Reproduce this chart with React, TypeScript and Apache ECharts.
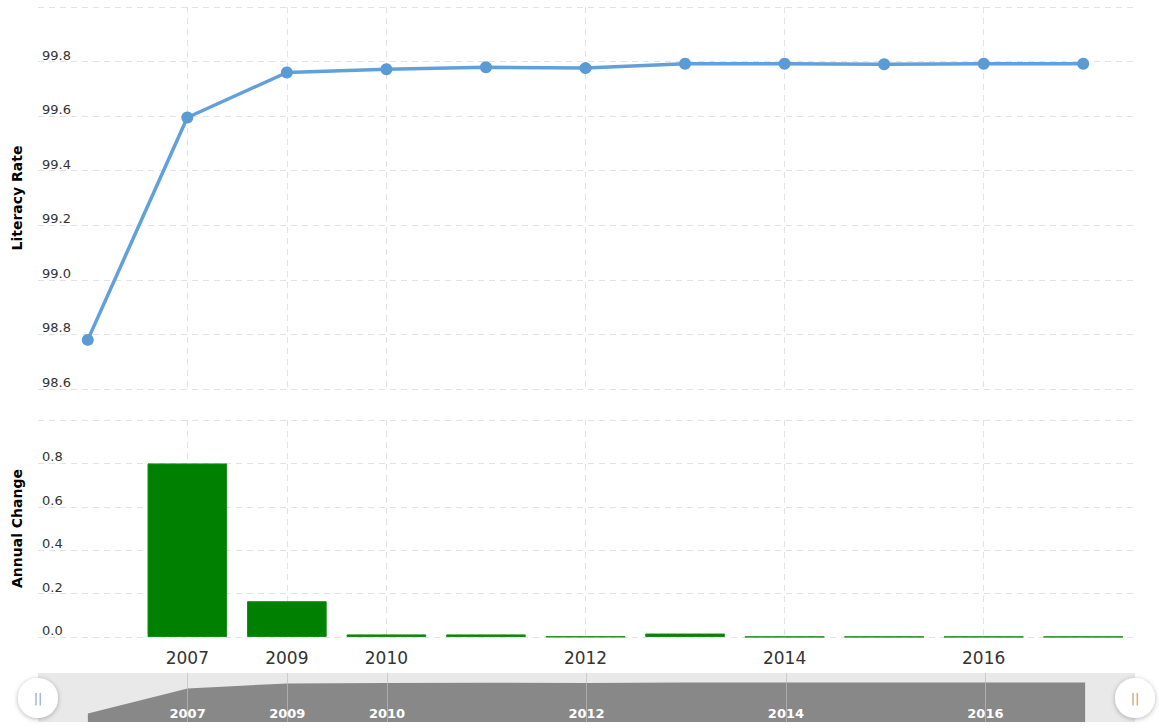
import React, { useEffect, useRef } from "react";
import * as echarts from "echarts";

const years = ["2006", "2007", "2009", "2010", "2011", "2012", "2013", "2014", "2015", "2016", "2017"];
const literacyRate = [98.78, 99.595, 99.76, 99.772, 99.779, 99.776, 99.792, 99.792, 99.79, 99.792, 99.792];
const annualChange = [null, 0.8, 0.165, 0.012, 0.012, 0.002, 0.016, 0.001, 0.001, 0.001, 0.001];
const labeledYears = ["2007", "2009", "2010", "2012", "2014", "2016"];

const showLabeled = (_i: number, v: string) => labeledYears.includes(v);
const gridLine = { color: "#e2e2e2", type: [6, 5] as any, width: 1 };
const FONT = "DejaVu Sans";

export default function App() {
  const ref = useRef<HTMLDivElement>(null);
  useEffect(() => {
    document.body.style.margin = "0";
    if (!ref.current) return;
    const chart = echarts.init(ref.current, undefined, { renderer: "svg" });
    const handle = (cx: number) => ({
      type: "group",
      x: cx,
      y: 698,
      z: 100,
      children: [
        {
          type: "circle",
          shape: { cx: 0, cy: 0, r: 20 },
          style: { fill: "#fff", shadowBlur: 5, shadowColor: "rgba(0,0,0,0.3)", shadowOffsetY: 1 },
        },
        {
          type: "text",
          x: 0,
          y: 0,
          style: { text: "||", fill: "#a0a0a0", fontSize: 13, fontFamily: FONT, align: "center", verticalAlign: "middle" },
        },
      ],
    });
    chart.setOption({
      animation: false,
      backgroundColor: "#fff",
      grid: [
        { left: 38, right: 26, top: 7, height: 382 },
        { left: 38, right: 26, top: 420, height: 217 },
        { left: 38, right: 24, top: 673, height: 49, show: true, backgroundColor: "#e9e9e9", borderWidth: 0 },
      ],
      xAxis: [
        {
          type: "category", gridIndex: 0, data: years, boundaryGap: true,
          axisLine: { show: false }, axisTick: { show: false }, axisLabel: { show: false },
          splitLine: { show: true, interval: showLabeled, alignWithLabel: true, lineStyle: gridLine } as any,
        },
        {
          type: "category", gridIndex: 1, data: years, boundaryGap: true,
          axisLine: { show: false }, axisTick: { show: false },
          axisLabel: { interval: showLabeled, color: "#333", fontSize: 17, fontFamily: FONT, margin: 12 },
          splitLine: { show: true, interval: showLabeled, alignWithLabel: true, lineStyle: gridLine } as any,
        },
        {
          type: "category", gridIndex: 2, data: years, boundaryGap: true, z: 20,
          axisLine: { show: false }, axisTick: { show: false },
          axisLabel: { interval: showLabeled, inside: true, margin: 2, color: "#fff", fontWeight: "bold", fontSize: 13, fontFamily: FONT },
          splitLine: { show: false },
        },
      ],
      yAxis: [
        {
          type: "value", gridIndex: 0, min: 98.6, max: 100, interval: 0.2,
          name: "Literacy Rate", nameLocation: "middle", nameGap: 14,
          nameTextStyle: { fontFamily: FONT, fontWeight: "bold", fontSize: 14, color: "#000" },
          axisLine: { show: false }, axisTick: { show: false },
          axisLabel: {
            inside: true, margin: 4, verticalAlign: "bottom", color: "#333", fontSize: 13, fontFamily: FONT,
            showMaxLabel: false, formatter: (v: number) => v.toFixed(1),
          },
          splitLine: { lineStyle: gridLine },
        },
        {
          type: "value", gridIndex: 1, min: 0, max: 1, interval: 0.2,
          name: "Annual Change", nameLocation: "middle", nameGap: 14,
          nameTextStyle: { fontFamily: FONT, fontWeight: "bold", fontSize: 14, color: "#000" },
          axisLine: { show: false }, axisTick: { show: false },
          axisLabel: {
            inside: true, margin: 4, verticalAlign: "bottom", color: "#333", fontSize: 13, fontFamily: FONT,
            showMaxLabel: false, formatter: (v: number) => v.toFixed(1),
          },
          splitLine: { lineStyle: gridLine },
        },
        {
          type: "value", gridIndex: 2, min: 98.5, max: 100.1, show: false,
          splitLine: { show: false },
        },
      ],
      series: [
        {
          type: "line", xAxisIndex: 0, yAxisIndex: 0, data: literacyRate,
          symbol: "circle", symbolSize: 12,
          lineStyle: { color: "#62a0db", width: 3.5 },
          itemStyle: { color: "#5b9bd5" },
        },
        {
          type: "bar", xAxisIndex: 1, yAxisIndex: 1, data: annualChange, barWidth: "80%",
          itemStyle: { color: "#008000", borderColor: "#1a8a1a", borderWidth: 1 },
        },
        {
          type: "line", xAxisIndex: 2, yAxisIndex: 2, data: literacyRate, z: 1,
          symbol: "none", lineStyle: { width: 0 },
          areaStyle: { color: "#888888", opacity: 1, origin: "start" },
          markLine: {
            silent: true, symbol: "none", label: { show: false },
            lineStyle: { color: "rgba(190,190,190,0.7)", type: "solid", width: 1 },
            data: labeledYears.map((y) => ({ xAxis: y })),
          },
        },
      ],
      graphic: [handle(38), handle(1135)],
    });
    return () => chart.dispose();
  }, []);
  return <div ref={ref} style={{ width: 1159, height: 728 }} />;
}
